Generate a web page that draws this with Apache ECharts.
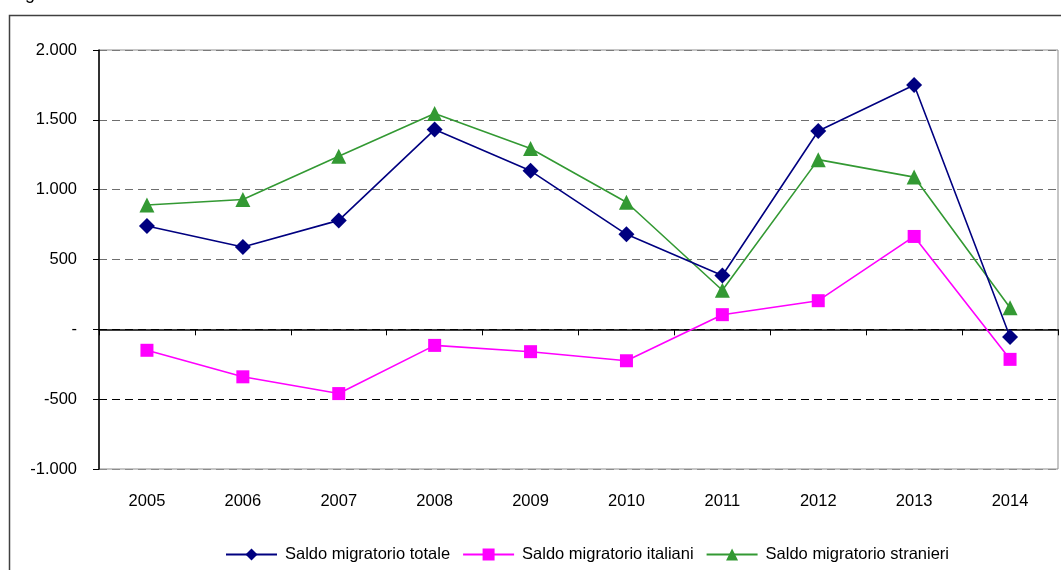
<!DOCTYPE html>
<html>
<head>
<meta charset="utf-8">
<script src="https://cdn.jsdelivr.net/npm/echarts@6/dist/echarts.min.js"></script>
<style>
  html, body { margin: 0; padding: 0; background: #fff; }
  #chart { width: 1061px; height: 570px; }
</style>
</head>
<body>
<div id="chart"></div>
<script>
// anni
var years = ['2005', '2006', '2007', '2008', '2009', '2010', '2011', '2012', '2013', '2014']
// saldi migratori
var totale = [740, 590, 780, 1430, 1135, 680, 385, 1420, 1750, -55]
var italiani = [-150, -340, -460, -115, -160, -225, 105, 205, 665, -215]
var stranieri = [890, 930, 1240, 1545, 1295, 910, 280, 1215, 1090, 155]
var seriesNames = ['Saldo migratorio totale', 'Saldo migratorio italiani', 'Saldo migratorio stranieri']

var font = "'Liberation Sans Narrow', 'Arial Narrow', 'Liberation Sans', sans-serif"

var chart = echarts.init(document.getElementById('chart'))

function fmt (v) {
  if (v === 0) return '-'
  var s = String(Math.abs(v)).replace(/\B(?=(\d{3})+(?!\d))/g, '.')
  return (v < 0 ? '-' : '') + s
}

var option = {
  animation: false,
  textStyle: { fontFamily: font, color: '#000' },
  graphic: [
    {
      type: 'rect',
      shape: { x: 9.5, y: 15.5, width: 1070, height: 600 },
      style: { fill: 'none', stroke: '#404040', lineWidth: 1.5 }
    },
    {
      type: 'text',
      left: 10,
      top: -15,
      style: { text: 'Fig', font: '18px ' + font, fill: '#000' }
    }
  ],
  grid: {
    left: 99,
    right: 3,
    top: 50,
    bottom: 101,
    show: true,
    borderColor: '#8c8c8c',
    borderWidth: 1
  },
  legend: {
    left: 220,
    top: 541,
    itemWidth: 51,
    itemHeight: 15,
    itemGap: 12,
    textStyle: { fontFamily: font, fontSize: 16.5, color: '#000', padding: [0, 0, 0, 3] },
    data: seriesNames
  },
  xAxis: [
    {
      type: 'category',
      data: years,
      axisLine: { onZero: true, lineStyle: { color: '#000', width: 1.5 } },
      axisTick: { show: true, length: 6, inside: false, lineStyle: { color: '#000' } },
      axisLabel: { show: false },
      splitLine: { show: false }
    },
    {
      type: 'category',
      data: years,
      position: 'bottom',
      axisLine: { show: false, onZero: false },
      axisTick: { show: false },
      axisLabel: { show: true, fontSize: 16.5, margin: 24, color: '#000', fontFamily: font },
      splitLine: { show: false }
    }
  ],
  yAxis: {
    type: 'value',
    min: -1000,
    max: 2000,
    interval: 500,
    axisLine: { show: true, lineStyle: { color: '#000', width: 1.5 } },
    axisTick: { show: true, length: 6, lineStyle: { color: '#000' } },
    axisLabel: { fontSize: 16.5, margin: 22, color: '#000', fontFamily: font, formatter: fmt },
    splitLine: {
      show: true,
      lineStyle: {
        type: [8, 5],
        width: 1.2,
        color: ['#8c8c8c', '#000', '#000', '#6e6e6e', '#6e6e6e', '#6e6e6e', '#7a7a7a']
      }
    }
  },
  series: [
    {
      name: seriesNames[0],
      type: 'line',
      data: totale,
      symbol: 'diamond',
      symbolSize: 16,
      itemStyle: { color: '#000080' },
      lineStyle: { color: '#000080', width: 1.6 },
      z: 4
    },
    {
      name: seriesNames[1],
      type: 'line',
      data: italiani,
      symbol: 'rect',
      symbolSize: 13,
      itemStyle: { color: '#ff00ff' },
      lineStyle: { color: '#ff00ff', width: 1.6 },
      z: 3
    },
    {
      name: seriesNames[2],
      type: 'line',
      data: stranieri,
      symbol: 'triangle',
      symbolSize: 15,
      itemStyle: { color: '#339933' },
      lineStyle: { color: '#339933', width: 1.6 },
      z: 3
    }
  ]
}

chart.setOption(option)
</script>
</body>
</html>
